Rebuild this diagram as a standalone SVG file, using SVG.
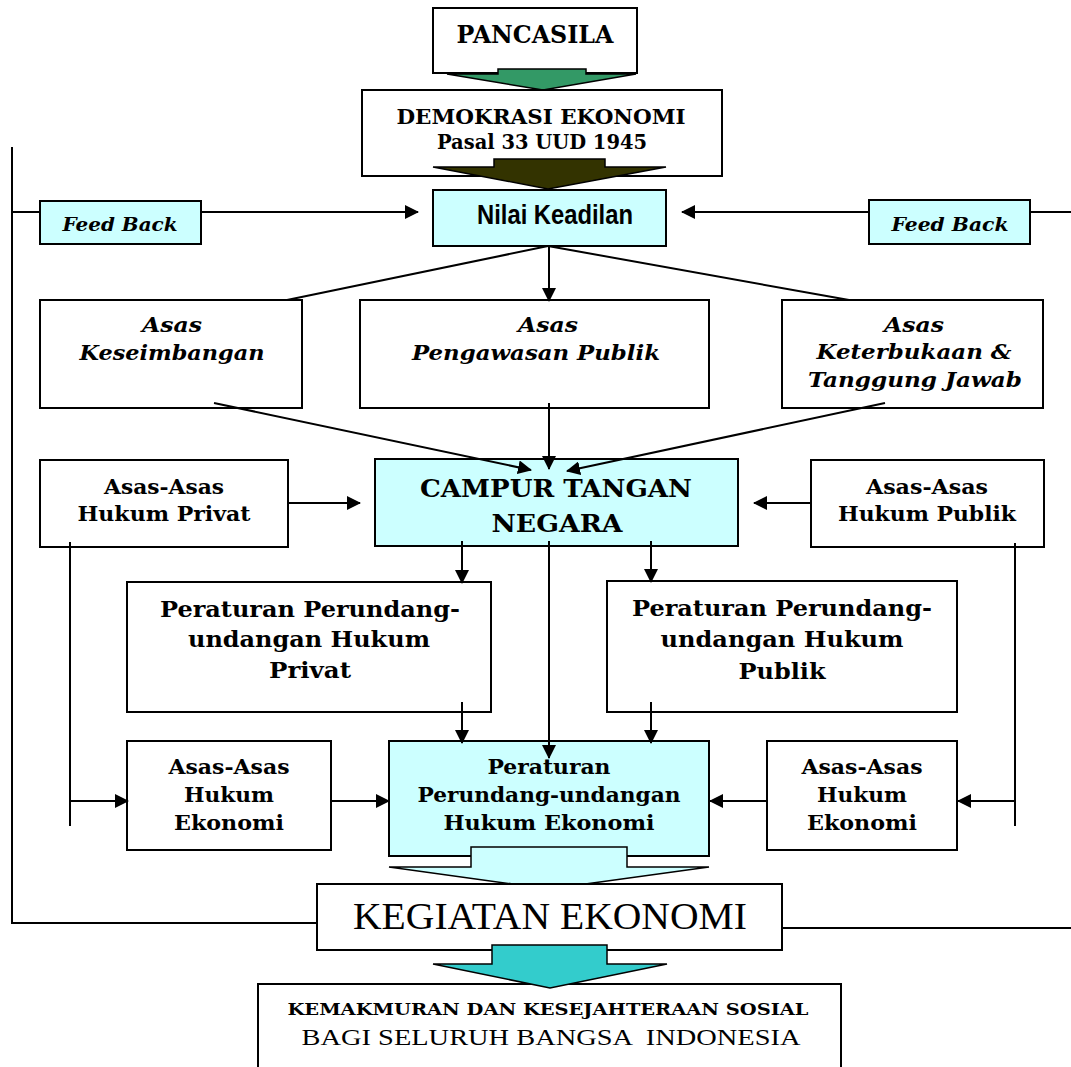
<svg xmlns="http://www.w3.org/2000/svg" width="1071" height="1067" viewBox="0 0 1071 1067">
<style>
.w{fill:#fff;stroke:#000;stroke-width:2}
.c{fill:#ccffff;stroke:#000;stroke-width:2}
.t{font-family:"DejaVu Serif","Liberation Serif",serif;font-weight:bold;text-anchor:middle;fill:#000}
.i{font-style:italic}
.r{font-family:"Liberation Serif","Times New Roman",serif;font-weight:normal;text-anchor:middle;fill:#000}
.n{font-family:"Liberation Sans Narrow","Liberation Sans",Arial,sans-serif;font-weight:bold;text-anchor:middle;fill:#000}
.l{stroke:#000;stroke-width:2;fill:none}
.a{stroke:#000;stroke-width:2;fill:none;marker-end:url(#ah)}
</style>
<defs>
<marker id="ah" markerWidth="14" markerHeight="14" refX="13" refY="7" orient="auto" markerUnits="userSpaceOnUse">
<path d="M0,0 L14,7 L0,14 z" fill="#000"/>
</marker>
</defs>
<rect width="1071" height="1067" fill="#fff"/>

<g id="pancasila">
<rect class="w" x="433" y="8" width="204" height="65"/>
<text class="t" x="535" y="43" font-size="23.5" textLength="157" lengthAdjust="spacingAndGlyphs">PANCASILA</text>
</g>
<g id="arrow-green">
<polygon points="498,69 586,69 586,74 636,74 543,90 447,74 498,74" fill="#339966" stroke="#000" stroke-width="1.5"/>
</g>

<g id="demokrasi">
<rect class="w" x="362" y="90" width="360" height="86"/>
<text class="t" x="541" y="124" font-size="21" textLength="289" lengthAdjust="spacingAndGlyphs">DEMOKRASI EKONOMI</text>
<text class="t" x="542" y="149" font-size="19.5" textLength="210" lengthAdjust="spacingAndGlyphs">Pasal 33 UUD 1945</text>
</g>
<g id="arrow-dark">
<polygon points="494,159 605,159 605,167 666,167 548,189 433,167 494,167" fill="#333300" stroke="#000" stroke-width="1.5"/>
</g>

<g id="nilai">
<rect class="c" x="433" y="190" width="233" height="56"/>
<text class="n" x="555" y="224" font-size="28" textLength="156" lengthAdjust="spacingAndGlyphs">Nilai Keadilan</text>
</g>

<g id="feedback-left">
<rect class="c" x="40" y="201" width="161" height="43"/>
<text class="t i" x="120" y="231" font-size="18.5" textLength="115" lengthAdjust="spacingAndGlyphs">Feed Back</text>
</g>
<g id="feedback-right">
<rect class="c" x="869" y="200" width="161" height="44"/>
<text class="t i" x="950" y="231" font-size="18.5" textLength="117" lengthAdjust="spacingAndGlyphs">Feed Back</text>
</g>

<g id="asas-keseimbangan">
<rect class="w" x="40" y="300" width="262" height="108"/>
<text class="t i" x="172" y="332" font-size="20" textLength="60" lengthAdjust="spacingAndGlyphs">Asas</text>
<text class="t i" x="172" y="360" font-size="20" textLength="185" lengthAdjust="spacingAndGlyphs">Keseimbangan</text>
</g>
<g id="asas-pengawasan">
<rect class="w" x="360" y="300" width="349" height="108"/>
<text class="t i" x="548" y="332" font-size="20" textLength="60" lengthAdjust="spacingAndGlyphs">Asas</text>
<text class="t i" x="536" y="360" font-size="20" textLength="248" lengthAdjust="spacingAndGlyphs">Pengawasan Publik</text>
</g>
<g id="asas-keterbukaan">
<rect class="w" x="782" y="300" width="261" height="108"/>
<text class="t i" x="914" y="332" font-size="20" textLength="60" lengthAdjust="spacingAndGlyphs">Asas</text>
<text class="t i" x="914" y="359" font-size="20" textLength="195" lengthAdjust="spacingAndGlyphs">Keterbukaan &amp;</text>
<text class="t i" x="915" y="387" font-size="20" textLength="214" lengthAdjust="spacingAndGlyphs">Tanggung Jawab</text>
</g>

<g id="campur-tangan">
<rect class="c" x="375" y="459" width="363" height="87"/>
<text class="t" x="556" y="497" font-size="24.5" textLength="272" lengthAdjust="spacingAndGlyphs">CAMPUR TANGAN</text>
<text class="t" x="557" y="532" font-size="24.5" textLength="131" lengthAdjust="spacingAndGlyphs">NEGARA</text>
</g>

<g id="asas-hukum-privat">
<rect class="w" x="40" y="460" width="248" height="87"/>
<text class="t" x="164" y="494" font-size="20.5" textLength="120" lengthAdjust="spacingAndGlyphs">Asas-Asas</text>
<text class="t" x="164" y="521" font-size="20.5" textLength="173" lengthAdjust="spacingAndGlyphs">Hukum Privat</text>
</g>
<g id="asas-hukum-publik">
<rect class="w" x="811" y="460" width="233" height="87"/>
<text class="t" x="927" y="494" font-size="20.5" textLength="122" lengthAdjust="spacingAndGlyphs">Asas-Asas</text>
<text class="t" x="927" y="521" font-size="20.5" textLength="178" lengthAdjust="spacingAndGlyphs">Hukum Publik</text>
</g>

<g id="peraturan-privat">
<rect class="w" x="127" y="582" width="364" height="130"/>
<text class="t" x="310" y="617" font-size="21.5" textLength="300" lengthAdjust="spacingAndGlyphs">Peraturan Perundang-</text>
<text class="t" x="309" y="647" font-size="21.5" textLength="242" lengthAdjust="spacingAndGlyphs">undangan Hukum</text>
<text class="t" x="310" y="678" font-size="21.5" textLength="82" lengthAdjust="spacingAndGlyphs">Privat</text>
</g>
<g id="peraturan-publik">
<rect class="w" x="607" y="581" width="350" height="131"/>
<text class="t" x="782" y="616" font-size="21.5" textLength="300" lengthAdjust="spacingAndGlyphs">Peraturan Perundang-</text>
<text class="t" x="782" y="647" font-size="21.5" textLength="243" lengthAdjust="spacingAndGlyphs">undangan Hukum</text>
<text class="t" x="782" y="679" font-size="21.5" textLength="87" lengthAdjust="spacingAndGlyphs">Publik</text>
</g>

<g id="asas-hukum-ekonomi-left">
<rect class="w" x="127" y="741" width="204" height="109"/>
<text class="t" x="229" y="774" font-size="20.5" textLength="121" lengthAdjust="spacingAndGlyphs">Asas-Asas</text>
<text class="t" x="229" y="802" font-size="20.5" textLength="90" lengthAdjust="spacingAndGlyphs">Hukum</text>
<text class="t" x="229" y="830" font-size="20.5" textLength="110" lengthAdjust="spacingAndGlyphs">Ekonomi</text>
</g>
<g id="asas-hukum-ekonomi-right">
<rect class="w" x="767" y="741" width="190" height="109"/>
<text class="t" x="862" y="774" font-size="20.5" textLength="121" lengthAdjust="spacingAndGlyphs">Asas-Asas</text>
<text class="t" x="862" y="802" font-size="20.5" textLength="90" lengthAdjust="spacingAndGlyphs">Hukum</text>
<text class="t" x="862" y="830" font-size="20.5" textLength="110" lengthAdjust="spacingAndGlyphs">Ekonomi</text>
</g>

<g id="peraturan-ekonomi">
<rect class="c" x="389" y="741" width="320" height="115"/>
<text class="t" x="549" y="774" font-size="20.5" textLength="123" lengthAdjust="spacingAndGlyphs">Peraturan</text>
<text class="t" x="549" y="802" font-size="20.5" textLength="263" lengthAdjust="spacingAndGlyphs">Perundang-undangan</text>
<text class="t" x="549" y="830" font-size="20.5" textLength="211" lengthAdjust="spacingAndGlyphs">Hukum Ekonomi</text>
</g>
<g id="arrow-cyan">
<polygon points="471,847 627,847 627,867 709,867 549,889 389,867 471,867" fill="#ccffff" stroke="#000" stroke-width="1.5"/>
</g>

<g id="kegiatan">
<rect class="w" x="317" y="884" width="465" height="66"/>
<text class="r" x="550" y="929" font-size="37" textLength="394" lengthAdjust="spacingAndGlyphs">KEGIATAN EKONOMI</text>
</g>

<g id="kemakmuran">
<rect class="w" x="258" y="984" width="583" height="120"/>
<text class="t" x="548" y="1015" font-size="17.5" textLength="521" lengthAdjust="spacingAndGlyphs">KEMAKMURAN DAN KESEJAHTERAAN SOSIAL</text>
<text class="r" x="551" y="1045" font-size="23.5" textLength="499" lengthAdjust="spacingAndGlyphs" xml:space="preserve">BAGI SELURUH BANGSA  INDONESIA</text>
</g>
<g id="arrow-teal">
<polygon points="492,945 607,945 607,964 667,964 550,988 433,964 492,964" fill="#33cccc" stroke="#000" stroke-width="1.5"/>
</g>

<g id="connectors">
<polyline class="l" points="12,147 12,923 317,923"/>
<line class="l" x1="782" y1="928" x2="1071" y2="928"/>
<line class="l" x1="12" y1="212" x2="40" y2="212"/>
<line class="a" x1="201" y1="212" x2="418" y2="212"/>
<line class="l" x1="1071" y1="212" x2="1030" y2="212"/>
<line class="a" x1="869" y1="212" x2="682" y2="212"/>
<line class="l" x1="548" y1="246" x2="287" y2="300"/>
<line class="l" x1="548" y1="246" x2="849" y2="300"/>
<line class="a" x1="549" y1="246" x2="549" y2="301"/>
<line class="a" x1="214" y1="403" x2="531" y2="470"/>
<line class="a" x1="549" y1="403" x2="549" y2="469"/>
<line class="a" x1="885" y1="403" x2="567" y2="471"/>
<line class="a" x1="288" y1="503" x2="360" y2="503"/>
<line class="a" x1="811" y1="503" x2="754" y2="503"/>
<line class="a" x1="462" y1="541" x2="462" y2="583"/>
<line class="a" x1="651" y1="541" x2="651" y2="582"/>
<line class="a" x1="549" y1="541" x2="549" y2="758"/>
<line class="a" x1="462" y1="702" x2="462" y2="743"/>
<line class="a" x1="651" y1="702" x2="651" y2="743"/>
<line class="l" x1="70" y1="542" x2="70" y2="826"/>
<line class="a" x1="70" y1="801" x2="128" y2="801"/>
<line class="l" x1="1015" y1="543" x2="1015" y2="826"/>
<line class="a" x1="1015" y1="801" x2="958" y2="801"/>
<line class="a" x1="331" y1="801" x2="389" y2="801"/>
<line class="a" x1="767" y1="801" x2="710" y2="801"/>
</g>
</svg>
